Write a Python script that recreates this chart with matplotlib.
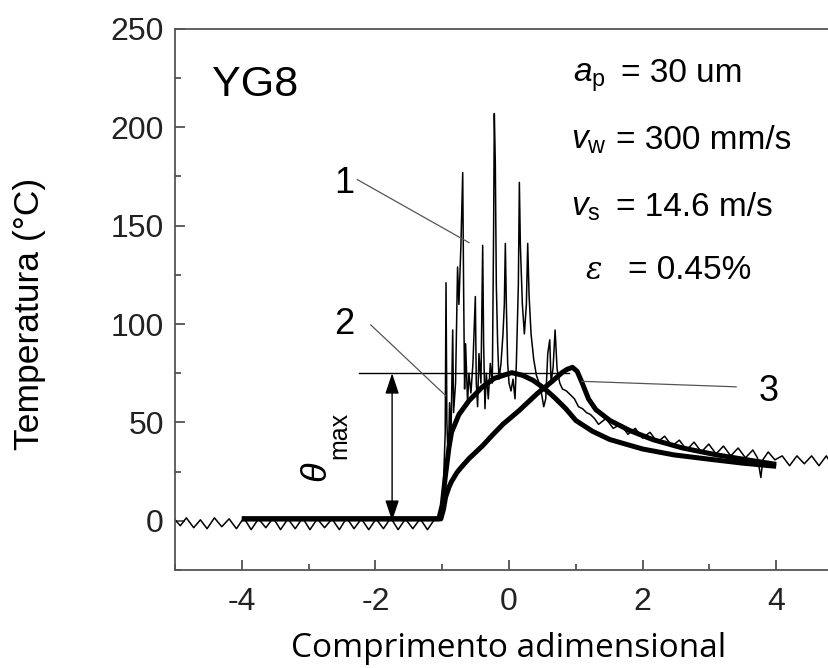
import matplotlib
matplotlib.use("Agg")
import matplotlib.pyplot as plt
from matplotlib.ticker import MultipleLocator

plt.rcParams['font.family'] = ['Liberation Sans', 'DejaVu Sans']
plt.rcParams['mathtext.fontset'] = 'custom'
plt.rcParams['mathtext.rm'] = 'Liberation Sans'
plt.rcParams['mathtext.it'] = 'Liberation Sans:italic'
plt.rcParams['axes.unicode_minus'] = False

# curve 1 - measured temperature (thin, noisy)
meas_x = [-5.00, -4.92, -4.83, -4.72, -4.62, -4.52, -4.41, -4.30, -4.19, -4.08,
          -3.97, -3.86, -3.75, -3.64, -3.53, -3.42, -3.31, -3.20, -3.09, -2.98,
          -2.87, -2.76, -2.65, -2.54, -2.43, -2.32, -2.21, -2.10, -1.99, -1.88,
          -1.77, -1.66, -1.55, -1.44, -1.33, -1.22, -1.11, -1.05,
          -1.02, -0.98, -0.955, -0.943, -0.93, -0.91, -0.89, -0.87, -0.843, -0.83,
          -0.80, -0.77, -0.75, -0.72, -0.693, -0.68, -0.665, -0.65, -0.62, -0.60,
          -0.57, -0.54, -0.504, -0.49, -0.47, -0.45, -0.42, -0.394, -0.38, -0.36,
          -0.34, -0.31, -0.28, -0.25, -0.23, -0.22, -0.205, -0.19, -0.17, -0.15,
          -0.12, -0.09, -0.07, -0.055, -0.04, -0.02, 0.00, 0.03, 0.06, 0.09,
          0.11, 0.14, 0.155, 0.17, 0.20, 0.23, 0.26, 0.28, 0.30, 0.33,
          0.37, 0.41, 0.45, 0.48, 0.52, 0.55, 0.58, 0.61, 0.63, 0.66,
          0.69, 0.72, 0.76, 0.80, 0.86, 0.92, 0.98, 1.04, 1.10, 1.16,
          1.22, 1.28, 1.34, 1.45, 1.56, 1.67, 1.78, 1.89, 2.00, 2.11,
          2.22, 2.33, 2.44, 2.55, 2.66, 2.77, 2.88, 2.99, 3.10, 3.21,
          3.32, 3.43, 3.54, 3.65, 3.72, 3.77, 3.80, 3.88, 3.98, 4.09,
          4.20, 4.31, 4.42, 4.53, 4.64, 4.75, 4.86, 4.95]
meas_y = [0.5, -2.5, 1.5, -3.5, 0.5, -4.0, 1.5, -3.0, 1.0, -4.0,
          1.5, -4.5, 1.0, -3.5, 1.5, -4.5, 1.0, -4.0, 1.5, -4.5,
          1.0, -3.5, 1.0, -4.5, 1.5, -4.0, 1.0, -4.5, 1.0, -4.0,
          1.5, -4.5, 1.0, -4.0, 1.0, -4.5, 1.0, 2.0,
          5, 20, 45, 121, 50, 30, 60, 40, 97, 55,
          70, 129, 110, 140, 177, 120, 67, 90, 60, 75,
          65, 80, 114, 70, 58, 85, 70, 140, 90, 57,
          75, 62, 80, 70, 150, 207, 182, 120, 90, 72,
          80, 95, 110, 141, 110, 80, 70, 66, 72, 62,
          80, 120, 172, 140, 110, 95, 110, 141, 115, 95,
          82, 74, 70, 66, 58, 62, 85, 92, 70, 78,
          97, 77, 70, 67, 66, 64, 62, 58, 57, 55,
          54, 52, 49, 52, 47, 49, 44, 47, 42, 45,
          40, 43, 38, 41, 36, 40, 35, 39, 34, 38,
          33, 37, 32, 36, 32, 22, 31, 35, 31, 33,
          28, 33, 29, 33, 28, 33, 27, 31]

# curve 2 - model, arch shaped
c2_x = [-4.0, -1.05, -1.0, -0.955, -0.9, -0.86, -0.75, -0.6, -0.4, -0.22,
        0.04, 0.2, 0.36, 0.52, 0.68, 0.85, 1.0, 1.25, 1.51, 2.0,
        2.47, 3.0, 3.5, 4.0]
c2_y = [1, 1, 8, 22, 37, 45, 54, 61, 68, 72.4,
        75.3, 74, 71.4, 67.5, 62.7, 57, 51, 45.5, 41.3, 36.5,
        33.5, 31.3, 29.3, 27.7]

# curve 3 - model, peak behind the contact
c3_x = [-4.0, -1.02, -0.98, -0.95, -0.9, -0.86, -0.78, -0.72, -0.6, -0.5,
        -0.4, -0.25, -0.09, 0.15, 0.42, 0.65, 0.8, 0.87, 0.95, 1.02,
        1.09, 1.19, 1.3, 1.51, 1.8, 2.15, 2.6, 3.11, 3.6, 4.0]
c3_y = [1, 1, 6, 12, 17, 20, 24.5, 27, 31.6, 34.8,
        38, 43.5, 49.1, 56, 64.6, 71, 75.5, 77, 78, 76,
        70.5, 62, 56.5, 51, 46, 41.3, 37, 33.5, 30.8, 28.7]

theta_max = 75

fig = plt.figure(figsize=(8.29, 6.68), dpi=100)
ax = fig.add_axes([0.2111, 0.1467, 0.8058, 0.81])

ax.plot(meas_x, meas_y, color='black', lw=1.1)
ax.plot(c2_x, c2_y, color='black', lw=3.6, solid_capstyle='butt')
ax.plot(c3_x, c3_y, color='black', lw=3.6, solid_capstyle='butt')

# theta max marker
ax.plot([-2.24, 0.9], [theta_max, theta_max], color='black', lw=1.0)
ax.annotate('', xy=(-1.75, 0), xytext=(-1.75, theta_max),
            arrowprops=dict(arrowstyle='<|-|>,head_length=0.9,head_width=0.3',
                            color='black', lw=1.0, shrinkA=0, shrinkB=0,
                            mutation_scale=14))
ax.text(-2.86, 24.6, r'$\theta$', rotation=90, fontsize=26,
        ha='center', va='center')
ax.text(-2.54, 43.4, 'max', rotation=90, fontsize=18,
        ha='center', va='center')

# leader lines and curve numbers
grey = '#555555'
ax.plot([-2.27, -0.60], [173.4, 141.4], color=grey, lw=0.9)
ax.plot([-2.07, -0.95], [99.6, 63.7], color=grey, lw=0.9)
ax.plot([1.09, 3.40], [70.9, 68.1], color=grey, lw=0.9)
ax.text(-2.47, 171.5, '1', fontsize=26, ha='center', va='center')
ax.text(-2.47, 99.6, '2', fontsize=26, ha='center', va='center')
ax.text(3.88, 65.6, '3', fontsize=26, ha='center', va='center')

ax.text(-4.45, 216, 'YG8', fontsize=31, va='baseline')

ax.text(0.954, 223, r'$a_{\mathrm{p}}$', fontsize=24, va='baseline')
ax.text(1.677, 223, '= 30 um', fontsize=24, va='baseline')
ax.text(0.928, 189, r'$v_{\mathrm{w}}$', fontsize=24, va='baseline')
ax.text(1.60, 189, '= 300 mm/s', fontsize=24, va='baseline')
ax.text(0.928, 155, r'$v_{\mathrm{s}}$', fontsize=24, va='baseline')
ax.text(1.60, 155, '= 14.6 m/s', fontsize=24, va='baseline')
ax.text(1.153, 123, 'ε', fontsize=22, va='baseline', style='italic',
        family=['DejaVu Serif'])
ax.text(1.777, 123, '= 0.45%', fontsize=24, va='baseline')

ax.set_xlim(-5, 5)
ax.set_ylim(-25, 250)
ax.set_xticks([-4, -2, 0, 2, 4])
ax.set_yticks([0, 50, 100, 150, 200, 250])
ax.xaxis.set_minor_locator(MultipleLocator(1))
ax.yaxis.set_minor_locator(MultipleLocator(25))
ax.tick_params(which='both', direction='in', colors='#444444',
               labelcolor='#222222', labelsize=23)
ax.tick_params(which='major', length=7, width=1.2)
ax.tick_params(which='minor', length=4, width=1.2)
ax.tick_params(axis='x', pad=12)
ax.tick_params(axis='y', pad=8)
for s in ax.spines.values():
    s.set_color('#555555')
    s.set_linewidth(1.3)

fig.text(0.614, 0.016, 'Comprimento adimensional', fontsize=24,
         family=['Open Sans'], ha='center', va='baseline')
fig.text(0.035, 0.53, 'Temperatura (°C)', fontsize=25.5, rotation=90,
         ha='center', va='center')

fig.savefig('out.png', dpi=100)
